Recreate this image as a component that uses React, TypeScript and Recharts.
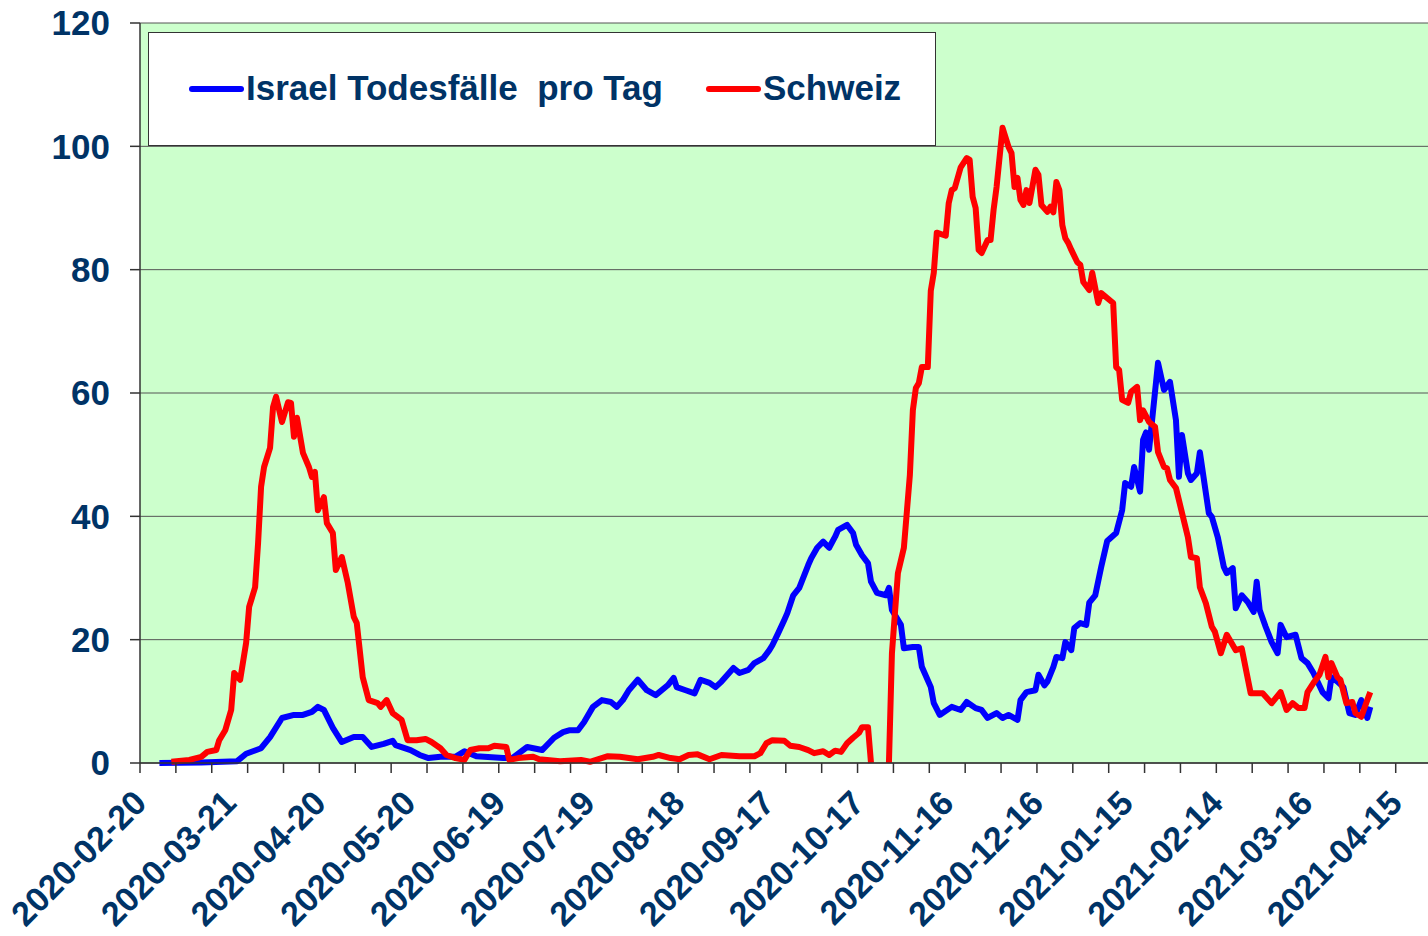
import { LineChart, Line, XAxis, YAxis, CartesianGrid } from "recharts";

// tick labels: one every 30 days starting 2020-02-20 (day 0)
const dateLabels = [
  "2020-02-20", "2020-03-21", "2020-04-20", "2020-05-20", "2020-06-19",
  "2020-07-19", "2020-08-18", "2020-09-17", "2020-10-17", "2020-11-16",
  "2020-12-16", "2021-01-15", "2021-02-14", "2021-03-16", "2021-04-15",
];
const labelDays = dateLabels.map((_, i) => i * 30);
// tick marks every 12 days, between categories
const tickMarkDays = Array.from({ length: 36 }, (_, i) => i * 12 - 0.5);
const yTicks = [0, 20, 40, 60, 80, 100, 120];

// Israel, deaths per day (7-day avg), by day index
const ilDays = [
  6, 20, 32, 35, 40, 43, 47, 51, 54, 57, 59, 61, 64, 67, 71, 74, 77, 81, 84, 85,
  90, 93, 96, 100, 105, 108, 112, 121, 124, 129, 134, 138, 141, 143, 146, 148, 151, 154, 157, 159,
  161, 163, 166, 169, 172, 176, 178, 179, 182, 185, 187, 190, 192, 194, 198, 200, 203, 205, 208, 210,
  211, 213, 215, 216, 218, 220, 223, 224, 226, 228, 230, 232, 233, 236, 238, 239, 241, 243, 244, 246,
  249, 250, 251, 254, 255, 258, 260, 261, 264, 265, 267, 271, 274, 276, 279, 281, 283, 286, 288, 290,
  293, 294, 296, 299, 300, 302, 303, 305, 306, 308, 309, 311, 312, 314, 316, 317, 319, 321, 323, 326,
  328, 329, 331, 332, 334, 335, 336, 337, 340, 342, 344, 346, 347, 348, 350, 351, 353, 354, 357, 358,
  360, 362, 363, 365, 366, 368, 370, 372, 373, 374, 376, 378, 380, 381, 383, 386, 388, 390, 392, 395,
  397, 398, 400, 402, 404, 406, 408, 410, 411,
];
const ilDeaths = [
  0, 0.1, 0.3, 1.5, 2.4, 4.2, 7.3, 7.8, 7.8, 8.3, 9.1, 8.6, 5.7, 3.4, 4.2, 4.2, 2.6, 3.1, 3.6, 2.9,
  2.1, 1.3, 0.8, 1.0, 1.0, 1.9, 1.1, 0.8, 0.8, 2.6, 2.1, 4.1, 5.0, 5.3, 5.3, 6.6, 9.1, 10.2, 9.9, 9.1,
  10.2, 11.8, 13.5, 11.8, 11.0, 12.6, 13.8, 12.3, 11.8, 11.3, 13.5, 13.0, 12.3, 13.2, 15.4, 14.6, 15.1, 16.2, 17.0, 18.3,
  19.1, 21.1, 23.2, 24.3, 27.2, 28.4, 32.1, 33.2, 34.9, 35.9, 34.9, 36.7, 37.8, 38.6, 37.3, 35.4, 33.7, 32.4, 29.4, 27.6,
  27.2, 28.4, 24.8, 22.4, 18.6, 18.8, 18.8, 15.6, 12.3, 9.7, 7.8, 9.1, 8.6, 9.9, 8.9, 8.6, 7.3, 8.1, 7.3, 7.8,
  7.0, 10.2, 11.5, 11.8, 14.3, 12.6, 13.2, 15.6, 17.2, 17.0, 19.6, 18.3, 21.9, 22.7, 22.4, 26.0, 27.2, 31.8, 36.0, 37.3,
  41.0, 45.4, 44.8, 48.0, 44.0, 52.4, 53.6, 50.8, 64.9, 60.5, 61.8, 55.6, 46.4, 53.2, 47.0, 45.9, 47.0, 50.4, 40.5, 39.9,
  36.6, 31.8, 30.8, 31.6, 25.1, 27.2, 26.1, 24.5, 29.4, 24.8, 22.1, 19.6, 17.8, 22.4, 20.4, 20.8, 17.0, 16.2, 14.6, 11.5,
  10.5, 13.9, 13.2, 12.3, 8.1, 7.8, 10.2, 7.3, 9.1,
];

// Switzerland, deaths per day; null = no data (gap in Oct/Nov 2020)
const chDays = [
  10, 16, 20, 22, 25, 26, 28, 30, 31, 33, 35, 36, 38, 39, 40, 41, 43, 44, 45, 47,
  49, 50, 51, 52, 54, 56, 57, 58, 59, 61, 62, 64, 65, 67, 69, 71, 72, 74, 76, 79,
  80, 82, 84, 87, 89, 92, 95, 97, 100, 102, 105, 108, 110, 113, 116, 118, 122, 123, 126, 131,
  133, 140, 147, 150, 156, 160, 166, 171, 173, 177, 180, 183, 186, 190, 194, 200, 205, 207, 209, 211,
  215, 217, 220, 223, 225, 228, 230, 232, 234, 236, 238, 240, 241, 243, 244, 245, 249, 250, 251, 253,
  255, 256, 257, 258, 259, 260, 261, 263, 264, 265, 266, 269, 270, 271, 272, 274, 276, 277, 278, 279,
  280, 281, 283, 284, 285, 286, 288, 290, 291, 292, 293, 294, 295, 296, 297, 299, 300, 301, 303, 304,
  305, 306, 307, 308, 309, 310, 311, 313, 314, 315, 317, 318, 320, 321, 325, 326, 327, 328, 330, 331,
  333, 334, 335, 337, 339, 340, 342, 343, 344, 346, 347, 350, 351, 353, 354, 356, 358, 359, 361, 363,
  366, 368, 371, 375, 378, 381, 383, 385, 387, 389, 390, 392, 394, 396, 397, 398, 400, 401, 403, 405,
  406, 408, 410, 411,
];
const chDeaths = [
  0.2, 0.5, 1.0, 1.8, 2.1, 3.7, 5.3, 8.6, 14.6, 13.5, 19.5, 25.3, 28.5, 35.7, 44.8, 48.0, 51.1, 57.7, 59.4, 55.3,
  58.5, 58.4, 52.9, 56.0, 50.3, 48.0, 46.4, 47.2, 41.0, 43.1, 38.9, 37.3, 31.3, 33.4, 29.2, 23.7, 22.7, 13.9, 10.2, 9.7,
  9.1, 10.2, 8.1, 7.0, 3.7, 3.7, 3.9, 3.4, 2.4, 1.3, 0.8, 0.5, 2.1, 2.4, 2.4, 2.8, 2.6, 0.5, 0.8, 1.0,
  0.6, 0.3, 0.5, 0.2, 1.1, 1.0, 0.6, 1.0, 1.3, 0.8, 0.6, 1.3, 1.4, 0.6, 1.3, 1.1, 1.1, 1.6, 3.2, 3.7,
  3.6, 2.8, 2.6, 2.1, 1.6, 1.9, 1.3, 2.0, 1.8, 3.2, 4.1, 4.9, 5.8, 5.8, 0, null, null, 0, 17.8, 30.8,
  34.9, 40.8, 46.7, 57.2, 60.8, 61.6, 64.2, 64.2, 76.6, 79.5, 86.0, 85.5, 90.8, 92.9, 93.2, 96.6, 98.1, 97.8, 91.8, 90.0,
  83.2, 82.7, 84.8, 84.8, 89.7, 93.4, 103.0, 99.9, 98.9, 93.4, 94.9, 91.3, 90.5, 92.9, 90.8, 96.2, 95.4, 90.5, 89.4, 90.2,
  89.3, 94.2, 92.9, 87.2, 85.1, 84.3, 83.2, 81.2, 80.8, 78.0, 76.7, 79.5, 74.6, 76.2, 74.6, 64.2, 63.7, 58.9, 58.4, 60.2,
  61.0, 55.6, 57.2, 55.3, 54.5, 50.4, 48.0, 47.8, 45.9, 44.6, 42.6, 36.6, 33.4, 33.2, 28.5, 25.9, 22.1, 21.3, 17.8, 20.8,
  18.3, 18.6, 11.3, 11.3, 9.7, 11.5, 8.6, 9.7, 8.9, 8.9, 11.5, 13.0, 14.3, 17.2, 13.9, 16.2, 13.9, 13.5, 9.7, 9.9,
  8.1, 7.5, 10.2, 11.5,
];

const israel = ilDays.map((day, i) => ({ day, v: ilDeaths[i] }));
const schweiz = chDays.map((day, i) => ({ day, v: chDeaths[i] }));
const xTicks = [...tickMarkDays, ...labelDays].sort((a, b) => a - b);

const navy = "#003366";
const font = "'Liberation Sans', Arial, sans-serif";

function DateTick(props: any) {
  const { x, y, payload } = props;
  const i = labelDays.indexOf(payload.value);
  if (i < 0) {
    return <line x1={x} y1={y} x2={x} y2={y + 10} stroke="#333" strokeWidth={1.5} />;
  }
  const px = x + 7;
  const py = y + 42;
  return (
    <text
      x={px}
      y={py}
      transform={`rotate(-45 ${px} ${py})`}
      textAnchor="end"
      fill={navy}
      fontSize={34}
      fontWeight="bold"
      fontFamily={font}
    >
      {dateLabels[i]}
    </text>
  );
}

export default function App() {
  return (
    <div style={{ position: "absolute", left: 0, top: 0, width: 1428, height: 936, background: "#fff" }}>
      <LineChart
        width={1428}
        height={936}
        margin={{ top: 23, right: 0, bottom: 0, left: 0 }}
      >
        <CartesianGrid vertical={false} stroke="#555" fill="#CCFFCC" />
        <XAxis
          dataKey="day"
          type="number"
          domain={[-0.5, 430.3]}
          ticks={xTicks}
          interval={0}
          height={173}
          tickLine={false}
          tickSize={0}
          tickMargin={0}
          axisLine={{ stroke: "#333", strokeWidth: 1.5 }}
          tick={DateTick}
        />
        <YAxis
          domain={[0, 120]}
          ticks={yTicks}
          interval={0}
          width={140}
          tickSize={10}
          tickMargin={20}
          axisLine={{ stroke: "#333", strokeWidth: 1.5 }}
          tickLine={{ stroke: "#333", strokeWidth: 1.5 }}
          tick={{ fill: navy, fontSize: 35, fontWeight: "bold", fontFamily: font }}
        />
        <Line
          data={israel}
          dataKey="v"
          name="Israel Todesfälle  pro Tag"
          stroke="#0000FF"
          strokeWidth={6}
          strokeLinejoin="round"
          dot={false}
          isAnimationActive={false}
        />
        <Line
          data={schweiz}
          dataKey="v"
          name="Schweiz"
          stroke="#FF0000"
          strokeWidth={6}
          strokeLinejoin="round"
          dot={false}
          isAnimationActive={false}
        />
      </LineChart>
      <svg width={1428} height={936} style={{ position: "absolute", left: 0, top: 0, pointerEvents: "none" }}>
        <rect x={148.5} y={32.5} width={787} height={113} fill="#fff" stroke="#333" strokeWidth={1} />
        <line x1={192} y1={89} x2={241} y2={89} stroke="#0000FF" strokeWidth={6} strokeLinecap="round" />
        <text x={246} y={100} fill={navy} fontSize={35} fontWeight="bold" fontFamily={font} style={{ whiteSpace: "pre" }}>
          Israel Todesfälle  pro Tag
        </text>
        <line x1={709} y1={89} x2={758} y2={89} stroke="#FF0000" strokeWidth={6} strokeLinecap="round" />
        <text x={763} y={100} fill={navy} fontSize={35} fontWeight="bold" fontFamily={font}>
          Schweiz
        </text>
      </svg>
    </div>
  );
}
